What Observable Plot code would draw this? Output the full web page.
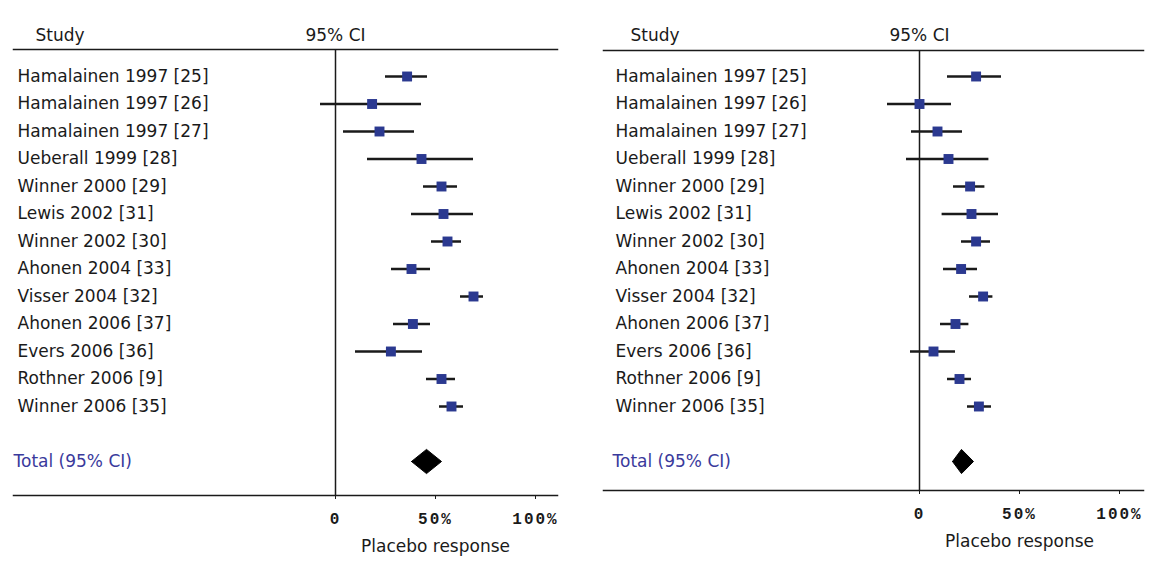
<!DOCTYPE html>
<html>
<head>
<meta charset="utf-8">
<script src="https://cdn.jsdelivr.net/npm/d3@7"></script>
<script src="https://cdn.jsdelivr.net/npm/@observablehq/plot@0.6"></script>
<style>
  body { margin: 0; background: #fff; }
  #wrap { position: relative; width: 1159px; height: 563px; background: #fff; }
  #L, #R { position: absolute; top: 0; }
  #L { left: 0; }
  #R { left: 580px; }
  g[aria-label="x-axis tick label"] text { letter-spacing: 2px; }
</style>
</head>
<body>
<div id="wrap"><div id="L"></div><div id="R"></div></div>
<script>
// ---- data ----
const studies = [
  "Hamalainen 1997 [25]", "Hamalainen 1997 [26]", "Hamalainen 1997 [27]",
  "Ueberall 1999 [28]", "Winner 2000 [29]", "Lewis 2002 [31]", "Winner 2002 [30]",
  "Ahonen 2004 [33]", "Visser 2004 [32]", "Ahonen 2006 [37]", "Evers 2006 [36]",
  "Rothner 2006 [9]", "Winner 2006 [35]"
];
const totalLabel = "Total (95% CI)";

// left panel (placebo response, %)
const leftEst = [35.8, 18.3, 22, 43, 53, 54, 56, 38, 69, 38.7, 27.7, 53, 58];
const leftLo  = [25, -7.5, 4, 16, 44, 38, 48, 28, 62.5, 29, 10, 45.5, 52];
const leftHi  = [46, 43, 39.5, 69, 61, 69, 63, 47.5, 74, 47.5, 43.5, 60, 64];
const leftTotal = { est: 45.5, lo: 38, hi: 53 };

// right panel (placebo response, %)
const rightEst = [28.3, 0, 9, 14.5, 25.3, 26, 28.3, 20.8, 31.8, 18, 7, 20, 29.7];
const rightLo  = [14, -16, -4, -6.5, 17, 11.3, 21, 12, 25, 10.5, -4.5, 14, 24];
const rightHi  = [41, 16, 21.5, 34.7, 32.7, 39.5, 35.5, 29, 36.7, 24.7, 18, 26, 36];
const rightTotal = { est: 21, lo: 16.5, hi: 27 };

const ticks = [0, 50, 100];
const tickLabels = ["0", "50%", "100%"];
const headerStudy = "Study";
const headerCI = "95% CI";
const axisLabel = "Placebo response";

// ---- drawing ----
function panel(est, lo, hi, total, cfg) {
  const rows = studies.map((s, i) => ({ study: s, i, est: est[i], lo: lo[i], hi: hi[i] }));
  const totalRow = studies.length + 1;
  const h = 0.44;
  const diamond = [
    { x: total.lo, y: totalRow },
    { x: total.est, y: totalRow - h },
    { x: total.hi, y: totalRow },
    { x: total.est, y: totalRow + h },
    { x: total.lo, y: totalRow }
  ];
  return Plot.plot({
    width: cfg.width,
    height: 563,
    marginTop: cfg.top,
    marginBottom: cfg.bottom,
    marginLeft: cfg.left,
    marginRight: cfg.right,
    x: { domain: [0, 100], range: cfg.xr },
    y: { domain: [0, totalRow], range: [76, 461], axis: null },
    style: { fontFamily: "DejaVu Sans", fontSize: "17px", background: "#fff", color: "#1a1a1a", overflow: "visible" },
    marks: [
      Plot.frame({ anchor: "top", stroke: "#1a1a1a", strokeWidth: 1.5 }),
      Plot.frame({ anchor: "bottom", stroke: "#1a1a1a", strokeWidth: 1.5 }),
      Plot.ruleX([0], { stroke: "#1a1a1a", strokeWidth: 1.5 }),
      Plot.ruleY(rows, { y: "i", x1: "lo", x2: "hi", stroke: "#1a1a1a", strokeWidth: 2.5 }),
      Plot.dot(rows, { x: "est", y: "i", symbol: "square", r: 5.6, fill: "#2b3990" }),
      Plot.line(diamond, { x: "x", y: "y", fill: "#000", stroke: "#000", strokeWidth: 1 }),
      Plot.text(rows, { y: "i", text: "study", frameAnchor: "left", textAnchor: "start", dx: cfg.labelDx, fill: "#1a1a1a" }),
      Plot.text([totalLabel], { y: () => totalRow, text: d => d, frameAnchor: "left", textAnchor: "start", dx: cfg.totalDx, fill: "#3a3a9c" }),
      Plot.text([headerStudy], { text: d => d, frameAnchor: "top-left", textAnchor: "start", dx: cfg.studyDx, dy: cfg.headDy, fill: "#1a1a1a" }),
      Plot.text([headerCI], { x: () => 0, text: d => d, frameAnchor: "top", dy: cfg.headDy, fill: "#1a1a1a" }),
      Plot.axisX({
        ticks: ticks,
        tickFormat: d => tickLabels[ticks.indexOf(d)],
        tickSize: 4,
        tickPadding: 13,
        label: null,
        fontFamily: "Liberation Mono",
        fontWeight: "bold",
        fontSize: 16,
        stroke: "#1a1a1a",
        fill: "#1a1a1a"
      }),
      Plot.text([axisLabel], { x: () => 50, text: d => d, frameAnchor: "bottom", dy: 56, fill: "#1a1a1a" })
    ]
  });
}

document.getElementById("L").append(panel(leftEst, leftLo, leftHi, leftTotal, {
  width: 580, top: 49, bottom: 68, left: 13, right: 23, xr: [335, 535],
  labelDx: 4, totalDx: 0, studyDx: 22, headDy: -21
}));
document.getElementById("R").append(panel(rightEst, rightLo, rightHi, rightTotal, {
  width: 579, top: 50, bottom: 73, left: 23, right: 16, xr: [339, 539],
  labelDx: 12, totalDx: 9, studyDx: 27, headDy: -22
}));
</script>
</body>
</html>
